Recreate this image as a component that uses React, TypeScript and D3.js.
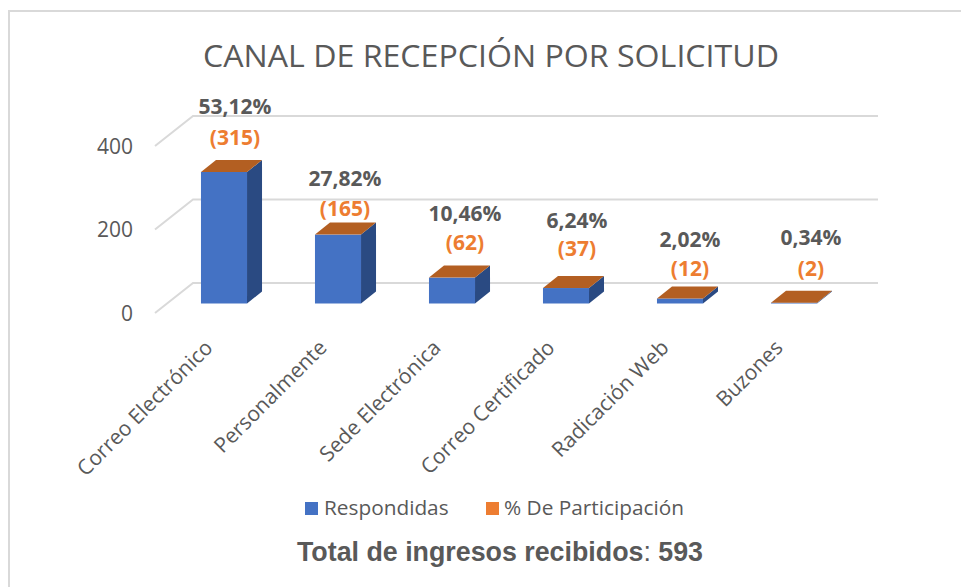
import React from "react";
import * as d3 from "d3";

const categories = ["Correo Electrónico", "Personalmente", "Sede Electrónica", "Correo Certificado", "Radicación Web", "Buzones"];
const respondidas = [315, 165, 62, 37, 12, 2];
const participacion = ["53,12%", "27,82%", "10,46%", "6,24%", "2,02%", "0,34%"];
const yTicks = [0, 200, 400];
const legendLabels = ["Respondidas", "% De Participación"];

// manual label placement, as in the reference (dragged data labels)
const labelDx = [11, 7, 13, 11, 10, 17];
const pctBaseline = [114, 186, 221, 228, 247, 245];
const valBaseline = [145, 216, 250, 256, 276, 276];

const GREY = "#595959";
const ORANGE = "#ED7D31";
const BLUE = "#4472C4";
const SIDE = "#2A4A82";
const TOP = "#B35F22";

const DX = 15, DY = 12;
const FX = 38;

export default function App() {
  const y = d3.scaleLinear().domain([0, 400]).range([303.5, 136.5]);
  const x = d3.scaleBand<string>().domain(categories).range([167, 851]).paddingInner(0.596).paddingOuter(0.298);
  const bw = x.bandwidth();
  return (
    <svg width={961} height={587} style={{ position: "absolute", left: 0, top: 0, background: "#fff" }} fontFamily="'Open Sans', sans-serif">
      <polyline points="9,587 9,11 961,11" fill="none" stroke="#D9D9D9" strokeWidth={2} />
      <text x={491} y={67} textAnchor="middle" fontSize={31} fill={GREY} textLength={576} lengthAdjust="spacingAndGlyphs">CANAL DE RECEPCIÓN POR SOLICITUD</text>
      {yTicks.map((t) => {
        const yy = y(t);
        return (
          <g key={t}>
            <polyline points={`${155},${yy + 9.5} ${155 + FX},${yy - 20.5} 878,${yy - 20.5}`} fill="none" stroke="#D9D9D9" strokeWidth={2} />
            <text x={133} y={yy + 17} fontSize={21} textAnchor="end" fill={GREY}>{t}</text>
          </g>
        );
      })}
      {categories.map((c, i) => {
        const x0 = x(c)!;
        const x1 = x0 + bw;
        const yb = y(0);
        const yt = y(respondidas[i]);
        const cx = x0 + bw / 2;
        return (
          <g key={c}>
            <polygon points={`${x1},${yb} ${x1 + DX},${yb - DY} ${x1 + DX},${yt - DY} ${x1},${yt}`} fill={SIDE} />
            <rect x={x0} y={yt} width={bw} height={yb - yt} fill={BLUE} />
            <polygon points={`${x0},${yt} ${x0 + DX},${yt - DY} ${x1 + DX},${yt - DY} ${x1},${yt}`} fill={TOP} />
            <text x={cx + labelDx[i]} y={pctBaseline[i]} fontSize={21} fontWeight={700} textAnchor="middle" fill={GREY}>{participacion[i]}</text>
            <text x={cx + labelDx[i]} y={valBaseline[i]} fontSize={21} fontWeight={700} textAnchor="middle" fill={ORANGE}>({respondidas[i]})</text>
            <text transform={`translate(${cx - 10},349) rotate(-45)`} fontSize={21} textAnchor="end" fill={GREY}>{c}</text>
          </g>
        );
      })}
      <rect x={305} y={502} width={13} height={13} fill={BLUE} />
      <text x={324} y={515} fontSize={20.8} fill={GREY}>{legendLabels[0]}</text>
      <rect x={486} y={502} width={13} height={13} fill={ORANGE} />
      <text x={504} y={515} fontSize={20.8} fill={GREY}>{legendLabels[1]}</text>
      <text x={500} y={561} fontSize={26.8} textAnchor="middle" fill={GREY} fontFamily="'Liberation Sans', Arial, sans-serif">
        <tspan fontWeight={700}>Total de ingresos recibidos</tspan>: <tspan fontWeight={700}>593</tspan>
      </text>
    </svg>
  );
}
